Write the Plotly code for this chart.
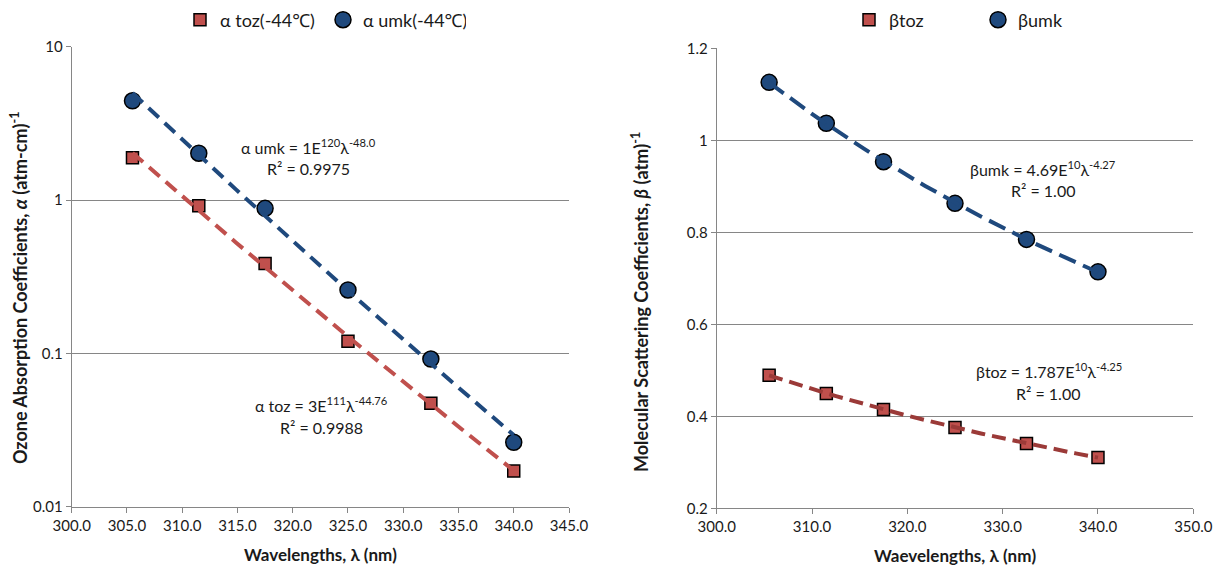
import numpy as np
import plotly.graph_objects as go

# ---------------- data ----------------
wavelengths = [305.5, 311.5, 317.5, 325.0, 332.5, 340.0]

alpha_toz = [1.89, 0.918, 0.386, 0.120, 0.0472, 0.0171]
alpha_umk = [4.44, 2.02, 0.883, 0.259, 0.0918, 0.0263]

beta_toz = [0.4895, 0.4496, 0.4148, 0.3757, 0.3409, 0.3104]
beta_umk = [1.126, 1.037, 0.9535, 0.863, 0.7846, 0.714]

left_yticks = [0.01, 0.1, 1, 10]
left_yticktext = ["0.01", "0.1", "1", "10"]

eq_alpha_umk = ["α umk = 1E<sup>120</sup>λ<sup>-48.0</sup>", "R² = 0.9975"]
eq_alpha_toz = ["α toz = 3E<sup>111</sup>λ<sup>-44.76</sup>", "R² = 0.9988"]
eq_beta_umk = ["βumk = 4.69E<sup>10</sup>λ<sup>-4.27</sup>", "R² = 1.00"]
eq_beta_toz = ["βtoz = 1.787E<sup>10</sup>λ<sup>-4.25</sup>", "R² = 1.00"]

# ---------------- style ----------------
OFF = 8  # page body margin
W, H = 1229 - 2 * OFF, 576 - 2 * OFF
FONT = "Lato, 'Noto Sans', sans-serif"
RED = "#C0504D"
DARKRED = "#9B3A38"
BLUE = "#1F497D"
GRID = "#868686"
TXT = "#1a1a1a"


def px(x):
    return (x - OFF) / W


def py(y):
    return 1 - (y - OFF) / H


def power_fit(x, y):
    b, ln_a = np.polyfit(np.log(x), np.log(y), 1)
    xs = np.linspace(min(x), max(x), 60)
    return xs, np.exp(ln_a) * xs ** b


fig = go.Figure()

# markers (left)
fig.add_trace(go.Scatter(x=wavelengths, y=alpha_toz, mode="markers", name="α toz(-44℃)",
                         marker=dict(symbol="square", size=12, color=RED, line=dict(color="black", width=1.5)),
                         xaxis="x", yaxis="y", legend="legend"))
fig.add_trace(go.Scatter(x=wavelengths, y=alpha_umk, mode="markers", name="α umk(-44℃)",
                         marker=dict(symbol="circle", size=16, color=BLUE, line=dict(color="black", width=1.5)),
                         xaxis="x", yaxis="y", legend="legend"))
# markers (right)
fig.add_trace(go.Scatter(x=wavelengths, y=beta_toz, mode="markers", name="βtoz",
                         marker=dict(symbol="square", size=12, color=RED, line=dict(color="black", width=1.5)),
                         xaxis="x2", yaxis="y2", legend="legend2"))
fig.add_trace(go.Scatter(x=wavelengths, y=beta_umk, mode="markers", name="βumk",
                         marker=dict(symbol="circle", size=16, color=BLUE, line=dict(color="black", width=1.5)),
                         xaxis="x2", yaxis="y2", legend="legend2"))

# trendlines
for ys, col, dash, xa, ya in [
    (alpha_toz, RED, "14px,8px", "x", "y"),
    (alpha_umk, BLUE, "14px,8px", "x", "y"),
    (beta_toz, DARKRED, "14px,7px", "x2", "y2"),
    (beta_umk, BLUE, "18px,8px", "x2", "y2"),
]:
    xs, yf = power_fit(np.array(wavelengths), np.array(ys))
    fig.add_trace(go.Scatter(x=xs, y=yf, mode="lines", showlegend=False, hoverinfo="skip",
                             line=dict(color=col, width=4, dash=dash), xaxis=xa, yaxis=ya))

axis_common = dict(showline=True, linecolor=GRID, linewidth=1, ticks="outside", ticklen=5,
                   tickcolor=GRID, zeroline=False, automargin=False,
                   tickfont=dict(family=FONT, size=15, color=TXT))

layout = dict(
    width=W, height=H, margin=dict(l=0, r=0, t=0, b=0, autoexpand=False),
    paper_bgcolor="white", plot_bgcolor="white",
    font=dict(family=FONT, color=TXT),
    xaxis=dict(domain=[px(71.7), px(569)], range=[300, 345], dtick=5, tick0=300, tickformat=".1f",
               showgrid=False, anchor="y", **axis_common),
    yaxis=dict(domain=[py(506.7), py(46.7)], type="log", range=[-2, 1], tickvals=left_yticks,
               ticktext=left_yticktext, showgrid=True, gridcolor=GRID, gridwidth=1, anchor="x", **axis_common),
    xaxis2=dict(domain=[px(716.7), px(1193.3)], range=[300, 350], dtick=10, tick0=300, tickformat=".1f",
                showgrid=False, anchor="y2", **axis_common),
    yaxis2=dict(domain=[py(508.3), py(48.3)], range=[0.2, 1.2], dtick=0.2, tick0=0.2,
                showgrid=True, gridcolor=GRID, gridwidth=1, anchor="x2", **axis_common),
    legend=dict(orientation="h", x=px(180), y=py(20), xanchor="left", yanchor="middle",
                font=dict(family=FONT, size=18, color=TXT), entrywidth=98, bgcolor="rgba(0,0,0,0)"),
    legend2=dict(orientation="h", x=px(849), y=py(20), xanchor="left", yanchor="middle",
                 font=dict(family=FONT, size=18, color=TXT), entrywidth=84, bgcolor="rgba(0,0,0,0)"),
)
fig.update_layout(**layout)

annots = []


def add_text(text, x, y, size=16, bold=False, angle=0):
    annots.append(dict(text=f"<b>{text}</b>" if bold else text, x=px(x), y=py(y), xref="paper", yref="paper",
                       showarrow=False, xanchor="center", yanchor="middle", textangle=angle,
                       font=dict(family=FONT, size=size, color=TXT)))


add_text(eq_alpha_umk[0], 308, 146)
add_text(eq_alpha_umk[1], 308, 168)
add_text(eq_alpha_toz[0], 321, 404)
add_text(eq_alpha_toz[1], 321, 427)
add_text(eq_beta_umk[0], 1043, 168)
add_text(eq_beta_umk[1], 1043, 191)
add_text(eq_beta_toz[0], 1049, 370)
add_text(eq_beta_toz[1], 1048, 393)

add_text("Wavelengths, λ (nm)", 320, 554, size=17, bold=True)
add_text("Waevelengths, λ (nm)", 955, 555, size=17, bold=True)
add_text("Ozone Absorption Coefficients, <i>α</i> (atm-cm)<sup>-1</sup>", 19, 288, size=18, bold=True, angle=-90)
add_text("Molecular Scattering Coefficients, <i>β</i> (atm)<sup>-1</sup>", 640, 302, size=18, bold=True, angle=-90)

fig.update_layout(annotations=annots)
fig.write_html("out.html")
